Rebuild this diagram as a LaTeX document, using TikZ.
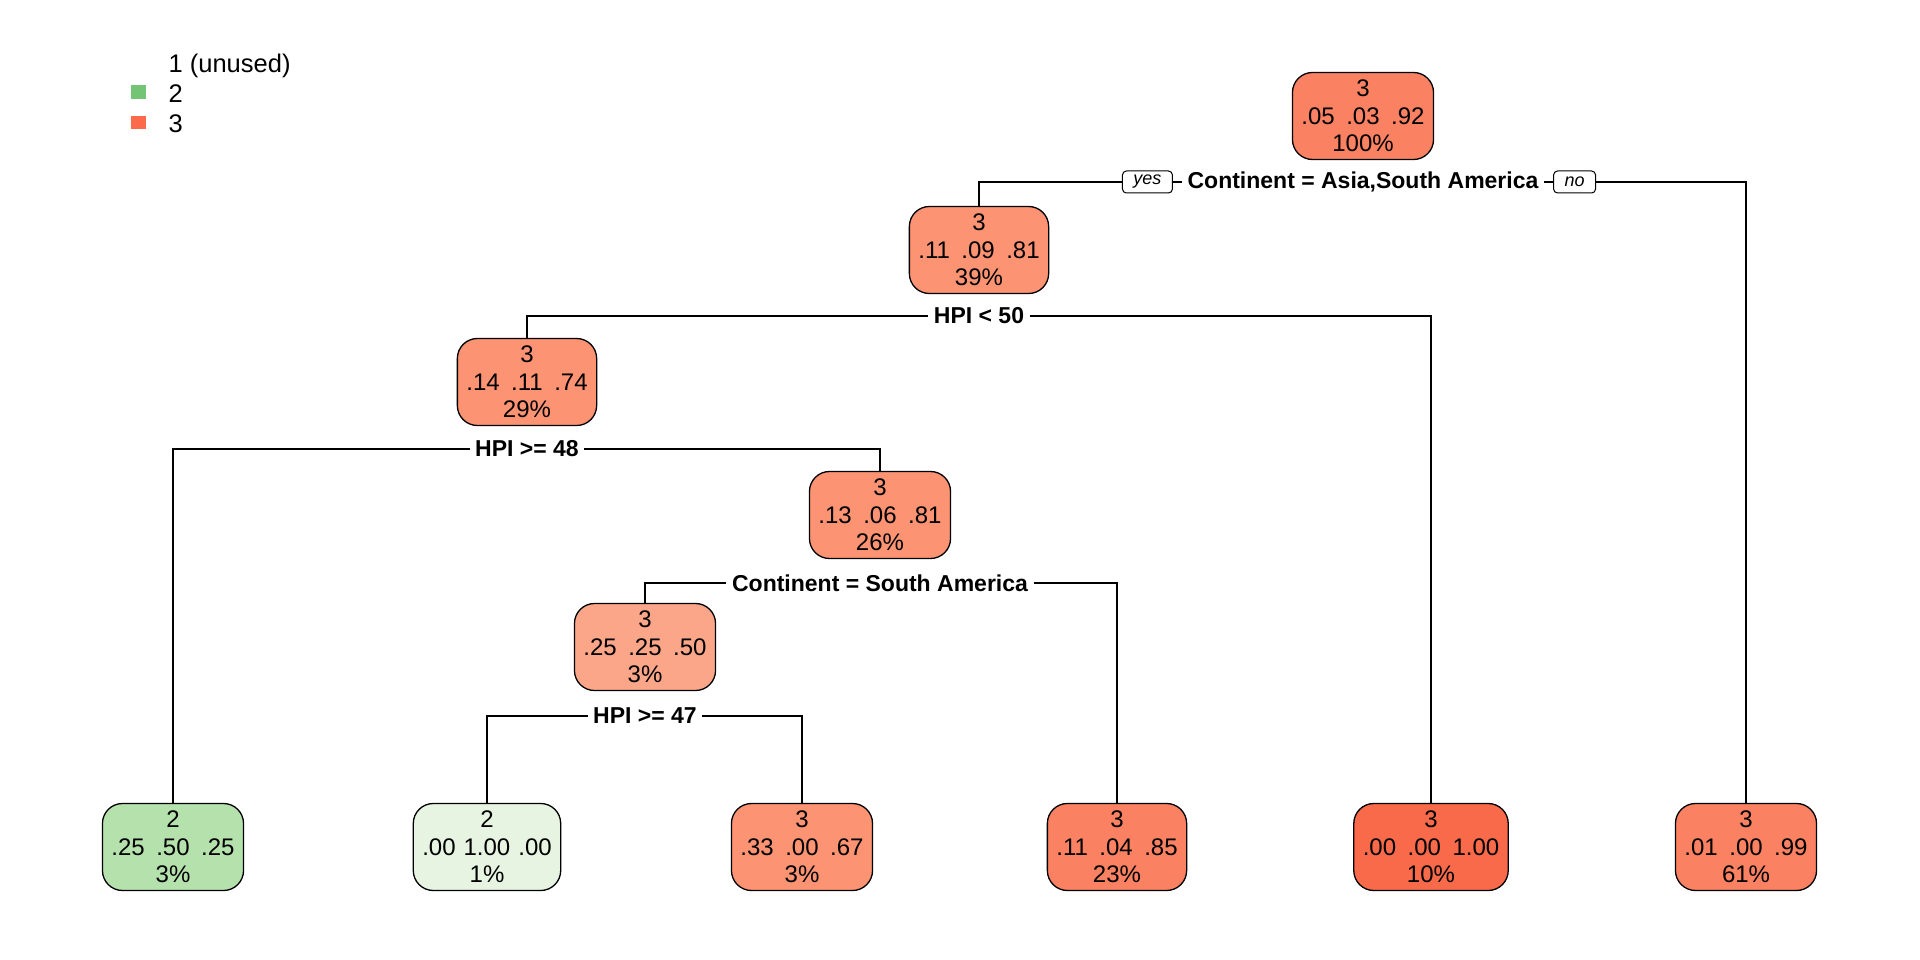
\documentclass[tikz,border=0pt]{standalone}
\usepackage{fontspec}
\setmainfont{Liberation Sans}
\usepackage{xcolor}
\usepackage{tikz}
\usetikzlibrary{positioning}

\definecolor{redA}{HTML}{FA8161}
\definecolor{redB}{HTML}{FC9373}
\definecolor{redC}{HTML}{FBA688}
\definecolor{redD}{HTML}{F96A4B}
\definecolor{greenA}{HTML}{B5E1AD}
\definecolor{greenB}{HTML}{E6F4E1}
\definecolor{keygreen}{HTML}{74C476}
\definecolor{keyred}{HTML}{FB6A4A}

\newcommand{\gp}{\hspace{11.5pt}}

\begin{document}
\begin{tikzpicture}[x=1pt,y=-1pt,line width=1.3pt,
  treebox/.style={draw,rounded corners=20pt,align=center,inner xsep=9pt,inner ysep=3pt,
    minimum width=138pt,minimum height=87pt,font=\fontsize{24}{27.5}\selectfont},
  splitlab/.style={fill=white,inner xsep=5pt,inner ysep=1pt,font=\fontsize{23}{27}\selectfont\bfseries},
  yesno/.style={draw,fill=white,rounded corners=4pt,line width=1pt,inner xsep=11pt,inner ysep=1pt,
    minimum height=22pt,font=\fontsize{18}{20}\selectfont\itshape},
  keytext/.style={anchor=west,inner sep=0pt,font=\fontsize{25.5}{27}\selectfont}]
\useasboundingbox (0,0) rectangle (1920,960);
%legend
\node[keytext] (k1) at (168,66) {1 (unused)};
\node[keytext] (k2) at (168,94) {2};
\node[keytext] (k3) at (168,124) {3};
\fill[keygreen] (130.5,85.5) rectangle (145.5,99);
\fill[keyred] (130.5,116) rectangle (145.5,129.5);
%inner nodes
\node[treebox,fill=redA] (n1) at (1363,116) {3\\.05\gp.03\gp.92\\100\%};
\node[treebox,fill=redB] (n2) at (979,250) {3\\.11\gp.09\gp.81\\39\%};
\node[treebox,fill=redB] (n4) at (527,382) {3\\.14\gp.11\gp.74\\29\%};
\node[treebox,fill=redB] (n9) at (880,515) {3\\.13\gp.06\gp.81\\26\%};
\node[treebox,fill=redC] (n18) at (645,647) {3\\.25\gp.25\gp.50\\3\%};
%leaves
\node[treebox,fill=greenA] (l1) at (173,847) {2\\.25\gp.50\gp.25\\3\%};
\node[treebox,fill=greenB] (l2) at (487,847) {2\\.00\hspace{8pt}1.00\hspace{8pt}.00\\1\%};
\node[treebox,fill=redB] (l3) at (802,847) {3\\.33\gp.00\gp.67\\3\%};
\node[treebox,fill=redA] (l4) at (1117,847) {3\\.11\gp.04\gp.85\\23\%};
\node[treebox,fill=redD] (l5) at (1431,847) {3\\.00\gp.00\gp1.00\\10\%};
\node[treebox,fill=redA] (l6) at (1746,847) {3\\.01\gp.00\gp.99\\61\%};
%split labels
\node[splitlab] (s1) at (1363,182) {Continent = Asia,South America};
\node[yesno,anchor=east] (yes) at ([xshift=-9pt]s1.west) {yes};
\node[yesno,anchor=west] (no) at ([xshift=9pt]s1.east) {no};
\node[splitlab] (s2) at (979,316) {HPI < 50};
\node[splitlab] (s3) at (527,449) {HPI >= 48};
\node[splitlab] (s4) at (880,583) {Continent = South America};
\node[splitlab] (s5) at (645,716) {HPI >= 47};
%branches
\draw (n2.north) |- (yes.west);
\draw (yes.east) -- (s1.west) (s1.east) -- (no.west);
\draw (no.east) -| (l6.north);
\draw (n4.north) |- (s2.west);
\draw (s2.east) -| (l5.north);
\draw (l1.north) |- (s3.west);
\draw (s3.east) -| (n9.north);
\draw (n18.north) |- (s4.west);
\draw (s4.east) -| (l4.north);
\draw (l2.north) |- (s5.west);
\draw (s5.east) -| (l3.north);
\end{tikzpicture}
\end{document}
